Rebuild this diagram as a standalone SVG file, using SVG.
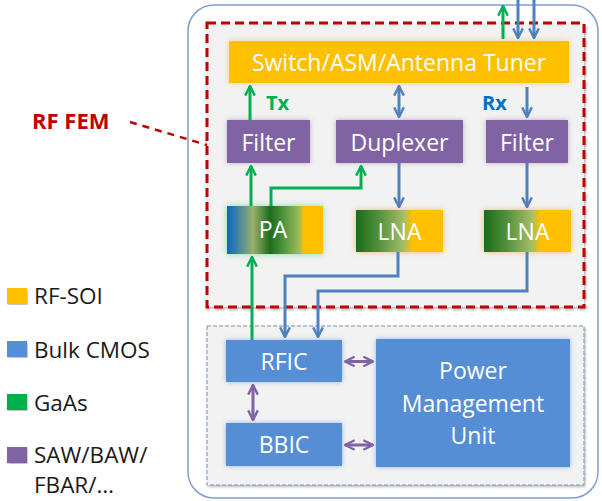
<svg xmlns="http://www.w3.org/2000/svg" width="602" height="501" viewBox="0 0 602 501">
<defs>
<style>
text{font-family:"Open Sans","Liberation Sans",sans-serif;}
.wt{fill:#ffffff;text-anchor:middle;font-size:23px;}
.lg{fill:#1a1a1a;font-size:22.5px;}
.g{stroke:#00b050;stroke-width:3;fill:none;}
.b{stroke:#4f81bd;stroke-width:3;fill:none;}
.p{stroke:#8064a2;stroke-width:3;fill:none;}
.purple{fill:#8064a2;}
.cmos{fill:#558ed5;}
</style>
<linearGradient id="paGrad" x1="0" y1="0" x2="1" y2="0">
<stop offset="0" stop-color="#0070c0"/>
<stop offset="0.1" stop-color="#3a7fa8"/>
<stop offset="0.27" stop-color="#9bb06a"/>
<stop offset="0.45" stop-color="#1e6b1e"/>
<stop offset="0.55" stop-color="#3f8a33"/>
<stop offset="0.75" stop-color="#9bbb59"/>
<stop offset="0.8" stop-color="#ffc000"/>
<stop offset="1" stop-color="#ffc000"/>
</linearGradient>
<linearGradient id="lnaGrad" x1="0" y1="0" x2="1" y2="0">
<stop offset="0" stop-color="#1a6b1a"/>
<stop offset="0.25" stop-color="#4f8f3a"/>
<stop offset="0.55" stop-color="#a5bd6a"/>
<stop offset="0.65" stop-color="#ffc000"/>
<stop offset="1" stop-color="#ffc000"/>
</linearGradient>
<filter id="glowY" x="-20%" y="-40%" width="140%" height="180%"><feDropShadow dx="0" dy="0" stdDeviation="3" flood-color="#f0b040" flood-opacity="0.6"/></filter>
<filter id="glowP" x="-20%" y="-40%" width="140%" height="180%"><feDropShadow dx="0" dy="0" stdDeviation="2.5" flood-color="#8064a2" flood-opacity="0.5"/></filter>
<filter id="glowG" x="-20%" y="-40%" width="140%" height="180%"><feDropShadow dx="0" dy="0" stdDeviation="3" flood-color="#30d070" flood-opacity="0.6"/></filter>
<filter id="glowO" x="-20%" y="-40%" width="140%" height="180%"><feDropShadow dx="0" dy="0" stdDeviation="3" flood-color="#f0a050" flood-opacity="0.7"/></filter>
<filter id="glowB" x="-20%" y="-40%" width="140%" height="180%"><feDropShadow dx="0" dy="0" stdDeviation="2.5" flood-color="#558ed5" flood-opacity="0.6"/></filter>
<filter id="shd" x="-5%" y="-5%" width="110%" height="110%"><feDropShadow dx="1" dy="1.5" stdDeviation="1.2" flood-color="#000" flood-opacity="0.3"/></filter>
<marker id="ag" viewBox="0 0 10 10" refX="9" refY="5" markerWidth="4" markerHeight="4" orient="auto-start-reverse"><path d="M1,1 L9,5 L1,9" fill="none" stroke="#00b050" stroke-width="2"/></marker>
<marker id="ab" viewBox="0 0 10 10" refX="9" refY="5" markerWidth="4" markerHeight="4" orient="auto-start-reverse"><path d="M1,1 L9,5 L1,9" fill="none" stroke="#4f81bd" stroke-width="2"/></marker>
<marker id="ap" viewBox="0 0 10 10" refX="9" refY="5" markerWidth="4" markerHeight="4" orient="auto-start-reverse"><path d="M1,1 L9,5 L1,9" fill="none" stroke="#8064a2" stroke-width="2"/></marker>
</defs>
<rect width="602" height="501" fill="#ffffff"/>

<g id="phone">
<rect x="188" y="5" width="410" height="493" rx="26" fill="#ffffff" stroke="#7f9fd0" stroke-width="1.5"/>
</g>

<g id="rf-fem">
<rect x="207" y="23" width="377" height="284" fill="#f2f2f2" stroke="#c00000" stroke-width="3" stroke-dasharray="9,5" filter="url(#shd)"/>
</g>

<g id="baseband">
<rect x="207" y="326" width="377" height="159" fill="#f2f2f2" stroke="#6f8fbf" stroke-width="1" stroke-dasharray="4,2" filter="url(#shd)"/>
</g>

<g id="switch">
<rect x="229" y="41" width="340" height="42" fill="#ffc000" filter="url(#glowY)"/>
<text class="wt" x="399" y="71" font-size="25">Switch/ASM/Antenna Tuner</text>
</g>

<g id="filter-tx">
<rect class="purple" x="227" y="120" width="83" height="43" filter="url(#glowP)"/>
<text class="wt" x="268.5" y="151">Filter</text>
</g>
<g id="duplexer">
<rect class="purple" x="336" y="120" width="127" height="43" filter="url(#glowP)"/>
<text class="wt" x="399.5" y="151">Duplexer</text>
</g>
<g id="filter-rx">
<rect class="purple" x="486" y="120" width="82" height="43" filter="url(#glowP)"/>
<text class="wt" x="527" y="151">Filter</text>
</g>

<g id="pa">
<rect x="227" y="206" width="96" height="48" fill="url(#paGrad)" filter="url(#glowG)"/>
<text class="wt" x="273" y="238" font-size="24">PA</text>
</g>
<g id="lna1">
<rect x="356" y="210" width="87" height="42" fill="url(#lnaGrad)" filter="url(#glowO)"/>
<text class="wt" x="399.5" y="240" font-size="24">LNA</text>
</g>
<g id="lna2">
<rect x="484" y="210" width="87" height="42" fill="url(#lnaGrad)" filter="url(#glowO)"/>
<text class="wt" x="527.5" y="240" font-size="24">LNA</text>
</g>

<g id="rfic">
<rect class="cmos" x="226" y="340" width="116" height="42" filter="url(#glowB)"/>
<text class="wt" x="284" y="370" font-size="24">RFIC</text>
</g>
<g id="bbic">
<rect class="cmos" x="226" y="423" width="116" height="43" filter="url(#glowB)"/>
<text class="wt" x="284" y="453" font-size="24">BBIC</text>
</g>
<g id="pmu">
<rect class="cmos" x="376" y="339" width="194" height="128" filter="url(#glowB)"/>
<text class="wt" x="473" y="379" font-size="25">Power</text>
<text class="wt" x="473" y="412" font-size="25">Management</text>
<text class="wt" x="473" y="444" font-size="25">Unit</text>
</g>

<g id="labels">
<text x="266" y="110" fill="#00b050" font-size="20" font-weight="bold">Tx</text>
<text x="482" y="110" fill="#0070c0" font-size="20" font-weight="bold">Rx</text>
<text x="32" y="129" fill="#c00000" font-size="22" font-weight="bold">RF FEM</text>
</g>

<g id="legend">
<rect x="7" y="288" width="20" height="16" fill="#ffc000" filter="url(#shd)"/>
<text class="lg" x="34" y="304">RF-SOI</text>
<rect x="7" y="341" width="20" height="16" fill="#558ed5" filter="url(#shd)"/>
<text class="lg" x="34" y="358">Bulk CMOS</text>
<rect x="7" y="394" width="20" height="16" fill="#00b050" filter="url(#shd)"/>
<text class="lg" x="34" y="411">GaAs</text>
<rect x="7" y="447" width="20" height="16" fill="#8064a2" filter="url(#shd)"/>
<text class="lg" x="34" y="463">SAW/BAW/</text>
<text class="lg" x="34" y="493">FBAR/…</text>
</g>

<g id="connectors">
<line x1="130" y1="122" x2="207" y2="145" stroke="#c00000" stroke-width="2.5" stroke-dasharray="7,6"/>
<line class="g" x1="503" y1="39" x2="503" y2="6" marker-end="url(#ag)"/>
<line class="b" x1="518" y1="0" x2="518" y2="38" marker-end="url(#ab)"/>
<line class="b" x1="534" y1="0" x2="534" y2="38" marker-end="url(#ab)"/>
<line class="g" x1="250" y1="120" x2="250" y2="86" marker-end="url(#ag)"/>
<line class="b" x1="399" y1="86" x2="399" y2="117" marker-start="url(#ab)" marker-end="url(#ab)"/>
<line class="b" x1="527" y1="87" x2="527" y2="117" marker-end="url(#ab)"/>
<line class="g" x1="251" y1="206" x2="251" y2="166" marker-end="url(#ag)"/>
<polyline class="g" points="271,206 271,188 361,188 361,166" marker-end="url(#ag)"/>
<line class="b" x1="399" y1="163" x2="399" y2="207" marker-end="url(#ab)"/>
<line class="b" x1="527" y1="163" x2="527" y2="207" marker-end="url(#ab)"/>
<line class="g" x1="252" y1="340" x2="252" y2="257" marker-end="url(#ag)"/>
<polyline class="b" points="398,252 398,276 285,276 285,337" marker-end="url(#ab)"/>
<polyline class="b" points="527,252 527,291 318,291 318,337" marker-end="url(#ab)"/>
<line class="p" x1="345" y1="361.5" x2="373" y2="361.5" marker-start="url(#ap)" marker-end="url(#ap)"/>
<line class="p" x1="345" y1="445" x2="373" y2="445" marker-start="url(#ap)" marker-end="url(#ap)"/>
<line class="p" x1="253" y1="385" x2="253" y2="420" marker-start="url(#ap)" marker-end="url(#ap)"/>
</g>
</svg>
